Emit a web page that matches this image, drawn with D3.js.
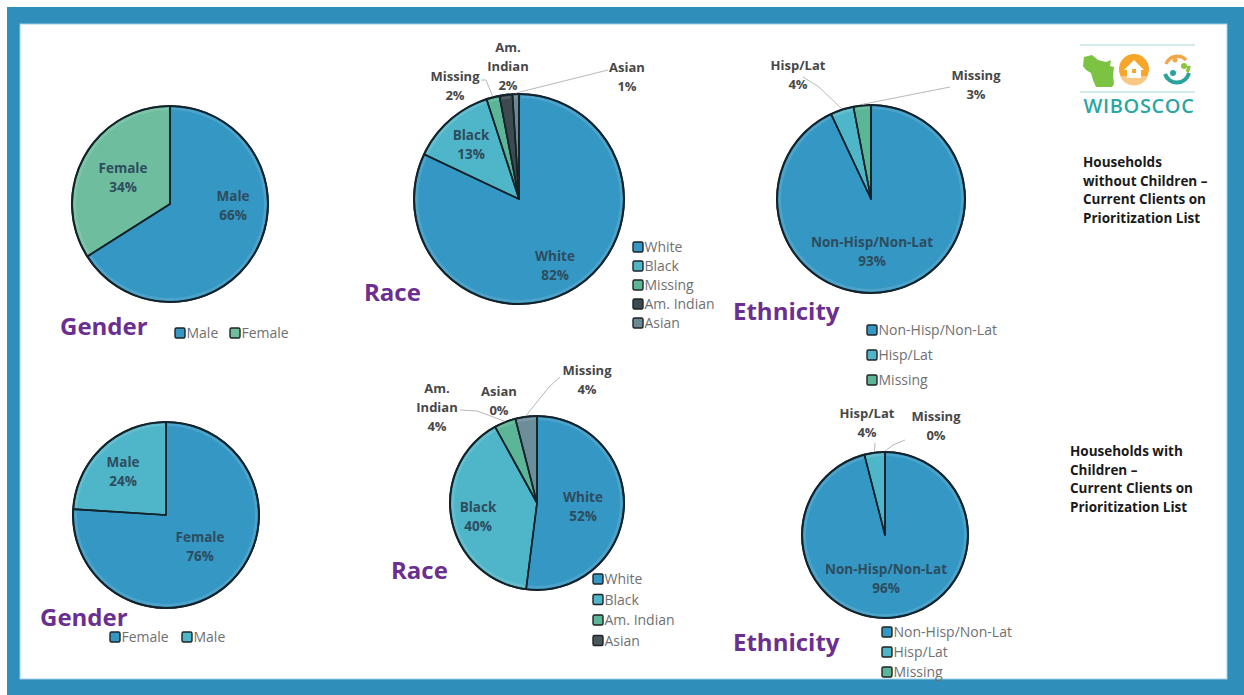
<!DOCTYPE html>
<html><head><meta charset="utf-8">
<script src="https://cdn.jsdelivr.net/npm/d3@7"></script>
<style>
html,body{margin:0;padding:0;background:#fdfdfd;}
svg{display:block;}
</style></head>
<body>
<svg id="chart" width="1244" height="695" font-family="'Open Sans', Lato, sans-serif"></svg>
<script>
// ---------- DATA ----------
const genderTopCats = ["Male", "Female"];
const genderTopVals = [66, 34];

const raceTopCats = ["White", "Black", "Missing", "Am. Indian", "Asian"];
const raceTopVals = [82, 13, 2, 2, 1];

const ethTopCats = ["Non-Hisp/Non-Lat", "Hisp/Lat", "Missing"];
const ethTopVals = [93, 4, 3];

const genderBotCats = ["Female", "Male"];
const genderBotVals = [76, 24];

const raceBotCats = ["White", "Black", "Am. Indian", "Asian", "Missing"];
const raceBotVals = [52, 40, 4, 0, 4];
const raceBotLegend = ["White", "Black", "Am. Indian", "Asian"];

const ethBotCats = ["Non-Hisp/Non-Lat", "Hisp/Lat", "Missing"];
const ethBotVals = [96, 4, 0];

const titleTop = ["Households", "without Children \u2013", "Current Clients on", "Prioritization List"];
const titleBot = ["Households with", "Children \u2013", "Current Clients on", "Prioritization List"];

// ---------- STYLE ----------
const C = {
  blue: "#3597c3", green: "#6dbd9e", teal: "#4fb5c8", mgreen: "#5bb596",
  dark: "#3d4b50", gray: "#6c8a93", slate: "#6b8e99", asianDark: "#4a575b"
};
const colorMaps = {
  genderTop: {"Male": C.blue, "Female": C.green},
  raceTop: {"White": C.blue, "Black": C.teal, "Missing": C.mgreen, "Am. Indian": C.dark, "Asian": C.gray},
  ethTop: {"Non-Hisp/Non-Lat": C.blue, "Hisp/Lat": C.teal, "Missing": C.mgreen},
  genderBot: {"Female": C.blue, "Male": C.teal},
  raceBot: {"White": C.blue, "Black": C.teal, "Am. Indian": C.mgreen, "Asian": C.asianDark, "Missing": C.slate},
  ethBot: {"Non-Hisp/Non-Lat": C.blue, "Hisp/Lat": C.teal, "Missing": C.mgreen}
};

// ---------- LAYOUT ----------
const charts = [
  {key: "genderTop", cats: genderTopCats, vals: genderTopVals, legend: genderTopCats,
   cx: 170, cy: 204, r: 98, title: "Gender", tx: 60, ty: 335,
   legendPos: {x: 175, y: 333, dir: "h", gap: 55},
   labels: [{dx: 63, dy: 2, inside: true}, {dx: -47, dy: -26, inside: true}]},
  {key: "raceTop", cats: raceTopCats, vals: raceTopVals, legend: raceTopCats,
   cx: 519, cy: 199, r: 105, title: "Race", tx: 364, ty: 301,
   legendPos: {x: 633, y: 247, dir: "v", step: 19},
   labels: [{dx: 36, dy: 67, inside: true}, {dx: -48, dy: -54, inside: true},
            {dx: -64, dy: -113, leader: [[-38, -119], [-33, -119]]},
            {dx: -11, dy: -132, wrap: true},
            {dx: 108, dy: -122, leader: [[89, -129]]}]},
  {key: "ethTop", cats: ethTopCats, vals: ethTopVals, legend: ethTopCats,
   cx: 871, cy: 199, r: 94, title: "Ethnicity", tx: 733, ty: 320,
   legendPos: {x: 867, y: 330, dir: "v", step: 25},
   labels: [{dx: 1, dy: 53, inside: true},
            {dx: -73, dy: -124, leader: [[-68, -122], [-52, -112]]},
            {dx: 105, dy: -114, leader: [[79, -112]]}]},
  {key: "genderBot", cats: genderBotCats, vals: genderBotVals, legend: genderBotCats,
   cx: 166, cy: 515, r: 93, title: "Gender", tx: 40, ty: 626,
   legendPos: {x: 110, y: 637, dir: "h", gap: 72},
   labels: [{dx: 34, dy: 32, inside: true}, {dx: -43, dy: -43, inside: true}]},
  {key: "raceBot", cats: raceBotCats, vals: raceBotVals, legend: raceBotLegend,
   cx: 537, cy: 503, r: 87, title: "Race", tx: 391, ty: 579,
   legendPos: {x: 593, y: 579, dir: "v", step: 20.5},
   labels: [{dx: 46, dy: 4, inside: true}, {dx: -59, dy: 14, inside: true},
            {dx: -100, dy: -95, wrap: true, leader: [[-77, -93], [-60, -92]]},
            {dx: -38, dy: -102},
            {dx: 50, dy: -123, leader: [[23, -126], [12, -116]]}]},
  {key: "ethBot", cats: ethBotCats, vals: ethBotVals, legend: ethBotCats,
   cx: 885, cy: 535, r: 83, title: "Ethnicity", tx: 733, ty: 651,
   legendPos: {x: 882, y: 632, dir: "v", step: 20},
   labels: [{dx: 1, dy: 44, inside: true},
            {dx: -18, dy: -112, leader: [[-10, -92]]},
            {dx: 51, dy: -109, leader: [[20, -95], [8, -90]]}]}
];

const svg = d3.select("#chart");

// frame
svg.append("rect").attr("x", 7).attr("y", 7).attr("width", 1237).attr("height", 688).attr("fill", "#2f8fba");
svg.append("rect").attr("x", 20).attr("y", 24).attr("width", 1207).attr("height", 655).attr("fill", "#ffffff")
  .attr("stroke", "#9fd0e6").attr("stroke-width", 1);

const pie = d3.pie().sort(null).value(d => d.v);

charts.forEach(ch => {
  const data = ch.cats.map((c, i) => ({c, v: ch.vals[i]}));
  const arcs = pie(data);
  const color = colorMaps[ch.key];
  const g = svg.append("g").attr("transform", `translate(${ch.cx},${ch.cy})`);
  const arc = d3.arc().innerRadius(0).outerRadius(ch.r);
  const rim = d3.arc().innerRadius(ch.r - 4).outerRadius(ch.r - 1.5);

  g.selectAll("path.slice").data(arcs).join("path").attr("class", "slice")
    .attr("d", arc).attr("fill", d => color[d.data.c]);
  g.selectAll("path.rim").data(arcs.filter(d => d.endAngle - d.startAngle > 0.05)).join("path").attr("class", "rim")
    .attr("d", d => rim({startAngle: d.startAngle + 0.02, endAngle: d.endAngle - 0.02}))
    .attr("fill", "#ffffff").attr("fill-opacity", 0.12);
  g.selectAll("path.edge").data(arcs.filter(d => d.endAngle > d.startAngle)).join("path").attr("class", "edge")
    .attr("d", arc).attr("fill", "none")
    .attr("stroke", "#14222a").attr("stroke-width", 1.6).attr("stroke-linejoin", "round");
  g.append("circle").attr("r", ch.r).attr("fill", "none").attr("stroke", "#14222a").attr("stroke-width", 2);

  // labels
  arcs.forEach((a, i) => {
    const L = ch.labels[i];
    if (!L) return;
    const lines = [];
    if (L.wrap) a.data.c.split(" ").forEach(w => lines.push(w)); else lines.push(a.data.c);
    lines.push(a.data.v + "%");
    const lh = 19;
    const y0 = L.dy - (lines.length - 1) * lh / 2 + 4;
    const t = g.append("text").attr("text-anchor", "middle")
      .attr("font-size", L.inside ? 13.5 : 13).attr("font-weight", 700)
      .attr("fill", L.inside ? "#2d4c5e" : "#474747");
    lines.forEach((ln, k) => t.append("tspan").attr("x", L.dx).attr("y", y0 + k * lh).text(ln));
    if (L.leader) {
      const mid = (a.startAngle + a.endAngle) / 2;
      const end = [Math.sin(mid) * (ch.r + 1), -Math.cos(mid) * (ch.r + 1)];
      const pts = L.leader.concat([end]);
      g.append("path").attr("d", d3.line()(pts)).attr("fill", "none")
        .attr("stroke", "#b8b8b8").attr("stroke-width", 1);
    }
  });

  // title
  svg.append("text").attr("x", ch.tx).attr("y", ch.ty).text(ch.title)
    .attr("font-size", 24).attr("font-weight", 700).attr("fill", "#6a2f90");

  // legend
  const lp = ch.legendPos;
  const lg = svg.append("g");
  ch.legend.forEach((c, i) => {
    let x = lp.x, y = lp.y;
    if (lp.dir === "h") x = lp.x + i * lp.gap; else y = lp.y + i * lp.step;
    lg.append("rect").attr("x", x).attr("y", y - 5).attr("width", 10).attr("height", 10).attr("rx", 1.5)
      .attr("fill", color[c]).attr("stroke", "#1d2326").attr("stroke-width", 1.4);
    lg.append("text").attr("x", x + 11.5).attr("y", y + 5).text(c)
      .attr("font-size", 14).attr("fill", "#707070");
  });
});

// side texts
function block(lines, x, y) {
  const t = svg.append("text").attr("font-size", 13.5).attr("font-weight", 700).attr("fill", "#1a1a1a");
  lines.forEach((ln, k) => t.append("tspan").attr("x", x).attr("y", y + k * 18.7).text(ln));
}
block(titleTop, 1083, 167);
block(titleBot, 1070, 456);

// logo
const lgo = svg.append("g");
lgo.append("line").attr("x1", 1080).attr("x2", 1195).attr("y1", 45).attr("y2", 45).attr("stroke", "#a9d6d8").attr("stroke-width", 1);
lgo.append("line").attr("x1", 1080).attr("x2", 1195).attr("y1", 92).attr("y2", 92).attr("stroke", "#a9d6d8").attr("stroke-width", 1);
lgo.append("path").attr("fill", "#7cc243")
  .attr("d", "M1084,57 L1092,55 L1098,60 L1106,62 L1111,60 L1110,66 L1114,67 L1113,75 L1114,84 L1112,87 L1096,87 L1093,80 L1091,73 L1086,70 L1083,66 Z");
lgo.append("circle").attr("cx", 1134).attr("cy", 69).attr("r", 15).attr("fill", "#f6a62a");
lgo.append("path").attr("fill", "#f8c985").attr("d", "M1120,76 L1148,76 A15,15 0 0 1 1120,76 Z");
lgo.append("path").attr("fill", "#ffffff").attr("d", "M1124,70 L1134,60 L1144,70 L1141,70 L1141,78 L1127,78 L1127,70 Z");
lgo.append("rect").attr("x", 1132).attr("y", 69).attr("width", 4).attr("height", 4).attr("fill", "#f6a62a");
lgo.append("path").attr("d", "M1166,64 A12,12 0 0 1 1186,60").attr("fill", "none").attr("stroke", "#f3a74d").attr("stroke-width", 3.5);
lgo.append("path").attr("d", "M1165,74 A12.5,12.5 0 0 0 1189,73").attr("fill", "none").attr("stroke", "#2aa39f").attr("stroke-width", 4);
lgo.append("path").attr("d", "M1189,66 A12,12 0 0 1 1187,72").attr("fill", "none").attr("stroke", "#8cc63f").attr("stroke-width", 3.5);
lgo.append("circle").attr("cx", 1184).attr("cy", 66).attr("r", 3).attr("fill", "#8cc63f");
lgo.append("circle").attr("cx", 1173).attr("cy", 73).attr("r", 3).attr("fill", "#2aa39f");
lgo.append("circle").attr("cx", 1175).attr("cy", 60).attr("r", 2.5).attr("fill", "#f3a74d");
lgo.append("text").attr("x", 1139).attr("y", 113).attr("text-anchor", "middle").text("WIBOSCOC")
  .attr("font-size", 20).attr("font-weight", 600).attr("fill", "#2aa7a3").attr("letter-spacing", 0.6);
</script>
</body></html>
